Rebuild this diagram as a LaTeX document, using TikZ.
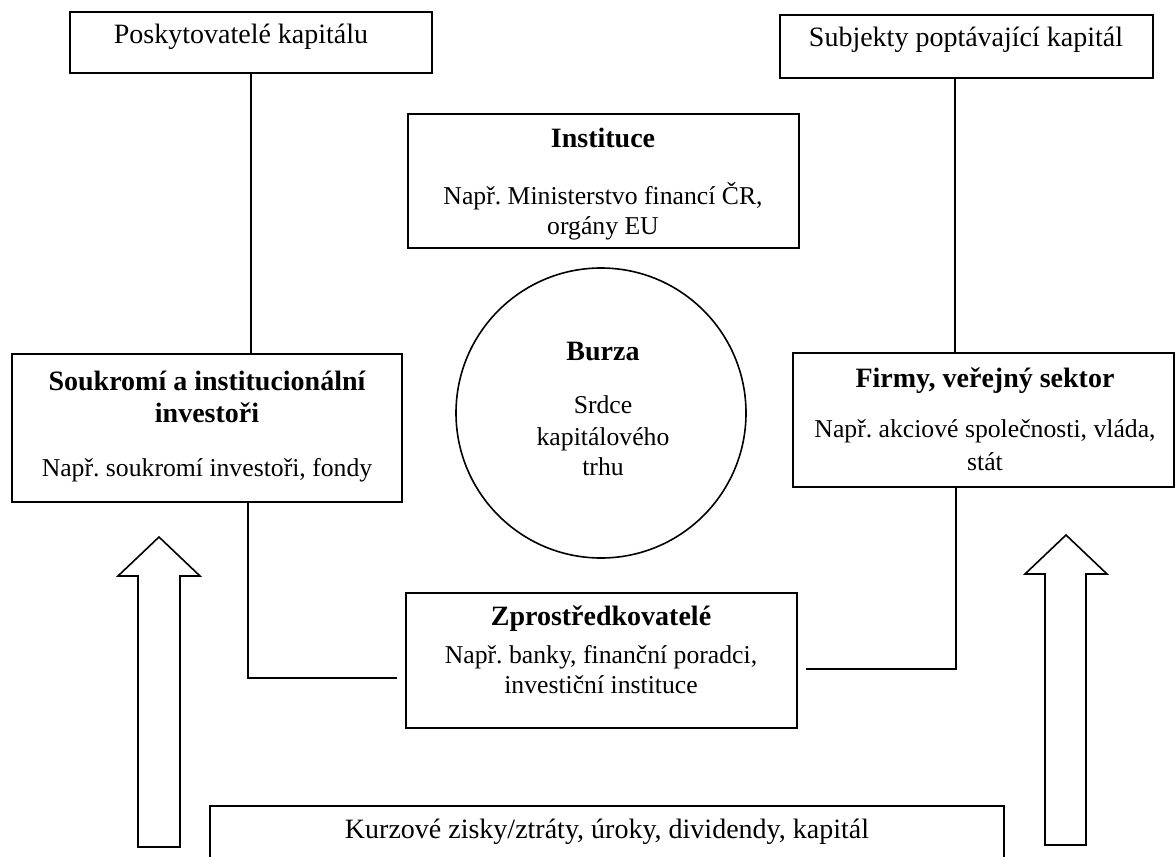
\documentclass[tikz,border=0pt]{standalone}
\usepackage{fontspec}
\setmainfont{Liberation Serif}
\usetikzlibrary{fit}
\frenchspacing
\begin{document}
\begin{tikzpicture}[x=0.5pt,y=-0.5pt,line width=0.8pt,
  box/.style={draw,rectangle,inner sep=0pt,outer sep=0pt},
  txt/.style={anchor=base,inner sep=0pt,font=\fontsize{14}{16}\selectfont},
  stxt/.style={anchor=base,inner sep=0pt,font=\fontsize{12.85}{15}\selectfont},
  btxt/.style={anchor=base,inner sep=0pt,font=\fontsize{14}{16}\selectfont\bfseries},
  bigarrow/.style={draw,line width=0.8pt,line join=miter}]
\useasboundingbox (0,0) rectangle (1176,856);
% boxes
\node[box,fit={(70,12) (432,73)}] (pk) {};
\node[box,fit={(780,15) (1153,78)}] (sp) {};
\node[box,fit={(408,114) (799,248)}] (in) {};
\node[box,fit={(12,354) (402,502)}] (si) {};
\node[box,fit={(793,353) (1174,487)}] (fi) {};
\node[box,fit={(406,593) (797,728)}] (zp) {};
\node[box,fit={(210,806) (1004,880)}] (kz) {};
\node[draw,circle,minimum size=145pt,inner sep=0pt] (bz) at (601,413) {};
% texts
\node[txt] (tpk) at (241,44) {Poskytovatelé kapitálu};
\node[txt] (tsp) at (966,47) {Subjekty poptávající kapitál};
\node[btxt] (tin1) at (603,147) {Instituce};
\node[stxt] (tin2) at (603,204) {Např. Ministerstvo financí ČR,};
\node[stxt] (tin3) at (603,234) {orgány EU};
\node[btxt] (tsi1) at (207,390) {Soukromí a institucionální};
\node[btxt] (tsi2) at (207,422) {investoři};
\node[stxt] (tsi3) at (207,476) {Např. soukromí investoři, fondy};
\node[btxt] (tfi1) at (985,387) {Firmy, veřejný sektor};
\node[stxt] (tfi2) at (985,437) {Např. akciové společnosti, vláda,};
\node[stxt] (tfi3) at (985,470) {stát};
\node[btxt] (tbz1) at (603,360) {Burza};
\node[stxt] (tbz2) at (603,413) {Srdce};
\node[stxt] (tbz3) at (603,445) {kapitálového};
\node[stxt] (tbz4) at (603,475) {trhu};
\node[btxt] (tzp1) at (601,625) {Zprostředkovatelé};
\node[stxt] (tzp2) at (601,663) {Např. banky, finanční poradci,};
\node[stxt] (tzp3) at (601,693) {investiční instituce};
\node[txt] (tkz) at (607,838) {Kurzové zisky/ztráty, úroky, dividendy, kapitál};
% connectors
\draw (pk.south -| 251,0) -- (si.north -| 251,0);
\coordinate (rx) at (955,0);
\draw (sp.south -| rx) -- (fi.north -| rx);
\coordinate (lc) at (248,678);
\coordinate (le) at (397,678);
\draw (si.south -| lc) -- (lc) -- (le);
\coordinate (rc) at (956,669);
\coordinate (re) at (806,669);
\draw (fi.south -| rc) -- (rc) -- (re);
% big arrows
\draw[bigarrow] (138,847) -- (138,576) -- (118,576) -- (159,537) -- (200,576) -- (180,576) -- (180,847) -- cycle;
\draw[bigarrow] (1045,845) -- (1045,574) -- (1025,574) -- (1066,535) -- (1107,574) -- (1086,574) -- (1086,845) -- cycle;
\end{tikzpicture}
\end{document}
